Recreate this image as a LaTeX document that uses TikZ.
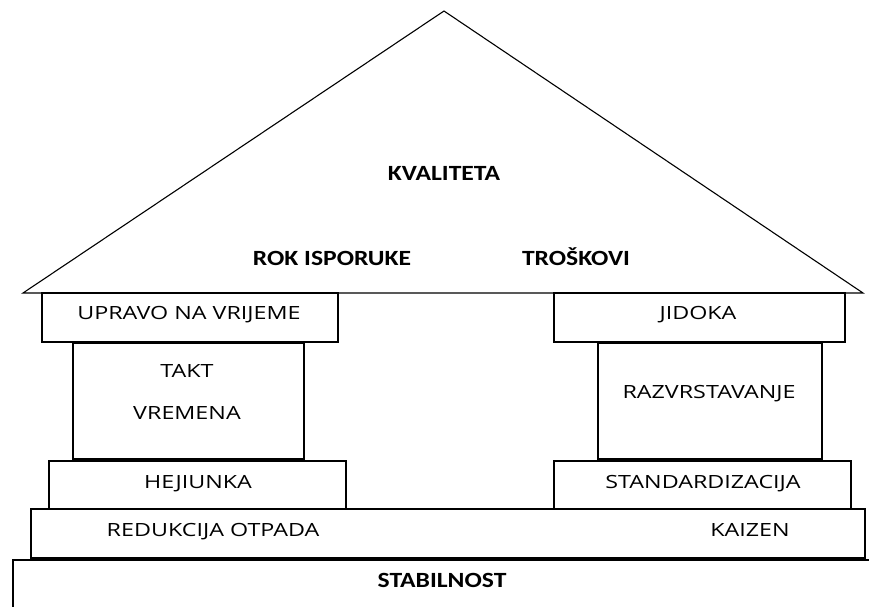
\documentclass[tikz,border=0pt]{standalone}
\usepackage{fontspec}
\newfontfamily\regfont[FakeStretch=1.28]{Open Sans}
\newfontfamily\boldfont[FakeStretch=1.18]{Carlito Bold}
\begin{document}
\begin{tikzpicture}[x=1pt,y=-1pt,
  part/.style={draw=black,line width=1.1pt,fill=white,inner sep=0pt,minimum width=#1},
  regtext/.style={inner sep=0pt,text height=13pt,text depth=0pt,font=\regfont\fontsize{18.2}{20}\selectfont},
  boldtext/.style={inner sep=0pt,text height=14pt,text depth=0pt,font=\boldfont\fontsize{21.7}{24}\selectfont}]
\useasboundingbox[fill=white] (0,0) rectangle (869,606);
\begin{scope}
\clip (0,0) rectangle (869,606);
% roof
\coordinate (rl) at (23,293);
\coordinate (apex) at (444,11);
\coordinate (rr) at (863,293);
\draw[line width=1.1pt,line join=miter] (rl) -- (apex) -- (rr) -- cycle;
% foundation
\node[part=887pt,minimum height=90pt] (stab) at (456.5,605) {};
\node[part=834pt,minimum height=49pt] (base) at (448,533.5) {};
% left pillar
\node[part=296pt,minimum height=49pt] (upravo) at (190,317.5) {};
\node[part=231pt,minimum height=116pt] (takt) at (188.5,401) {};
\node[part=297pt,minimum height=48pt] (hej) at (197.5,485) {};
% right pillar
\node[part=291pt,minimum height=49pt] (jid) at (699.5,317.5) {};
\node[part=224pt,minimum height=116pt] (razv) at (710,401) {};
\node[part=297pt,minimum height=48pt] (stand) at (702.5,485) {};
\end{scope}
% texts
\node[boldtext] (kval) at (444,173) {KVALITETA};
\node[boldtext] (rok) at (332,258) {ROK ISPORUKE};
\node[boldtext] (tros) at (576,258) {TROŠKOVI};
\node[boldtext] (stabt) at (442,580) {STABILNOST};
\node[regtext] (upravot) at (189,313) {UPRAVO NA VRIJEME};
\node[regtext] (taktt) at (187,371) {TAKT};
\node[regtext] (vremt) at (187,413) {VREMENA};
\node[regtext] (hejt) at (198,482) {HEJIUNKA};
\node[regtext] (redt) at (213,530) {REDUKCIJA OTPADA};
\node[regtext] (jidt) at (698,313) {JIDOKA};
\node[regtext] (razvt) at (709,392) {RAZVRSTAVANJE};
\node[regtext] (standt) at (703,482) {STANDARDIZACIJA};
\node[regtext] (kait) at (750,530) {KAIZEN};
\end{tikzpicture}
\end{document}
